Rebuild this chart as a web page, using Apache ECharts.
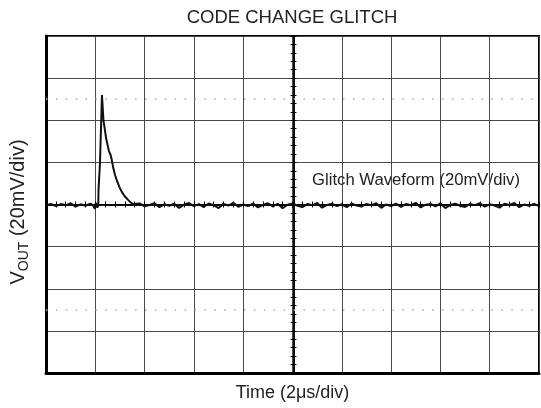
<!DOCTYPE html>
<html>
<head>
<meta charset="utf-8">
<script src="https://cdn.jsdelivr.net/npm/echarts@6/dist/echarts.min.js"></script>
<style>
  html, body { margin: 0; padding: 0; background: #fff; }
  #chart { width: 541px; height: 408px; }
</style>
</head>
<body>
<div id="chart"></div>
<script>
// scope trace, time in µs, VOUT in mV (20mV/div, 2µs/div)
const times = [
  0, 0.2, 0.4, 0.6, 0.8, 1.0, 1.2, 1.4, 1.6, 1.8,
  1.9, 1.98, 2.02, 2.08, 2.12, 2.13, 2.17, 2.19, 2.24, 2.26, 2.27,
  2.33, 2.44, 2.55, 2.62, 2.67, 2.73, 2.8, 2.87, 2.97, 3.07, 3.2, 3.34, 3.44, 3.54,
  3.6, 3.8, 4.0, 4.2, 4.4, 4.6, 4.8, 5.0, 5.2, 5.4, 5.6, 5.8, 6.0, 6.2, 6.4, 6.6, 6.8,
  7.0, 7.2, 7.4, 7.6, 7.8, 8.0, 8.2, 8.4, 8.6, 8.8, 9.0, 9.2, 9.4, 9.6, 9.8,
  10.0, 10.2, 10.4, 10.6, 10.8, 11.0, 11.2, 11.4, 11.6, 11.8, 12.0, 12.2, 12.4, 12.6, 12.8,
  13.0, 13.2, 13.4, 13.6, 13.8, 14.0, 14.2, 14.4, 14.6, 14.8, 15.0, 15.2, 15.4, 15.6, 15.8,
  16.0, 16.2, 16.4, 16.6, 16.8, 17.0, 17.2, 17.4, 17.6, 17.8, 18.0, 18.2, 18.4, 18.6, 18.8,
  19.0, 19.2, 19.4, 19.6, 19.8, 20.0
];
const vout = [
  -0.5, 0.3, -0.8, 0.2, -0.4, 0.6, -1.0, 0.1, -0.6, 0.4,
  -0.3, -2.0, 0.8, -1.5, -0.4, 6.9, 7.2, 19.7, 20.0, 19.7, 52.0,
  40.1, 31.4, 25.5, 23.5, 21.1, 17.3, 14.0, 11.6, 8.5, 6.1, 3.8, 2.1, 0.9, 0.2,
  -0.4, 0.5, -0.9, -0.2, 0.6, -1.3, 0.1, -0.6, 0.4, -1.6, -0.1, 0.7, -0.8, 0.2, -1.2, 0.5, -0.3,
  -1.7, 0.3, -0.5, 0.8, -1.1, 0.0, -0.7, 0.4, -1.4, -0.2, 0.6, -0.9, 0.3, -1.8, -0.1,
  0.5, -0.6, -1.2, 0.2, -0.4, 0.7, -1.5, -0.2, 0.4, -0.8, 0.1, -1.3, 0.5, -0.5, -1.0,
  0.3, -0.3, 0.6, -1.6, 0.0, -0.7, 0.4, -1.1, 0.2, -0.4, 0.8, -1.4, -0.1, 0.3, -0.9,
  0.5, -1.7, -0.2, 0.4, -0.6, -1.2, 0.3, -0.3, 0.6, -1.0, 0.1, -0.5, -1.5, 0.4, -0.2,
  0.7, -1.3, 0.0, -0.6, 0.3, -0.8
];
// dotted reference rows at +/- 2.5 div
const refLevels = [50, -50];

const FONT = '"Liberation Sans", Arial, sans-serif';
const myChart = echarts.init(document.getElementById("chart"), null, { renderer: "canvas" });

const timeScale = { type: "value", min: 0, max: 20, interval: 2 };
const voltScale = { type: "value", min: -80, max: 80, interval: 20 };

// centre cross with little tick marks on both sides
const centreX = (inside) => ({
  ...timeScale,
  position: "bottom",
  offset: -168.5,
  axisLine: { show: true, onZero: false, lineStyle: { color: "#000", width: 1.5 } },
  axisTick: { show: true, inside, length: 3, lineStyle: { color: "#000" } },
  minorTick: { show: true, splitNumber: 5, length: 3, lineStyle: { color: "#000" } },
  axisLabel: { show: false },
  splitLine: { show: false },
});
const centreY = (inside) => ({
  ...voltScale,
  position: "left",
  offset: -247.5,
  axisLine: { show: true, onZero: false, lineStyle: { color: "#000", width: 1.5 } },
  axisTick: { show: true, inside, length: 3, lineStyle: { color: "#000" } },
  minorTick: { show: true, splitNumber: 5, length: 3, lineStyle: { color: "#000" } },
  axisLabel: { show: false },
  splitLine: { show: false },
});

const option = {
  animation: false,
  textStyle: { fontFamily: FONT },
  title: {
    text: "CODE CHANGE GLITCH",
    left: 287,
    top: 3,
    textAlign: "center",
    textStyle: { fontSize: 18.5, fontWeight: "normal", color: "#222", fontFamily: FONT },
  },
  grid: {
    left: 44,
    right: 2,
    top: 36,
    bottom: 35,
    show: true,
    borderColor: "#000",
    borderWidth: 2,
  },
  xAxis: [
    {
      ...timeScale,
      position: "bottom",
      name: "Time (2μs/div)",
      nameLocation: "middle",
      nameGap: 11,
      nameTextStyle: { fontSize: 18, color: "#222", fontFamily: FONT },
      axisLine: { show: true, onZero: false, lineStyle: { color: "#000", width: 3 } },
      axisTick: { show: false },
      axisLabel: { show: false },
      splitLine: { show: true, lineStyle: { color: "#4a4a4a", width: 1 } },
    },
    centreX(false),
    centreX(true),
  ],
  yAxis: [
    {
      ...voltScale,
      position: "left",
      name: "{v|V}{s|OUT}{v| (20mV/div)}",
      nameLocation: "middle",
      nameGap: 15,
      nameRotate: 90,
      nameTextStyle: {
        color: "#222",
        fontFamily: FONT,
        padding: [0, 15, 0, 0],
        rich: {
          v: { fontSize: 20, lineHeight: 23, verticalAlign: "top", color: "#222", fontFamily: FONT },
          s: { fontSize: 14, lineHeight: 14, verticalAlign: "bottom", color: "#222", fontFamily: FONT },
        },
      },
      axisLine: { show: true, onZero: false, lineStyle: { color: "#000", width: 3 } },
      axisTick: { show: false },
      axisLabel: { show: false },
      splitLine: { show: true, lineStyle: { color: "#4a4a4a", width: 1 } },
    },
    centreY(false),
    centreY(true),
  ],
  graphic: [
    {
      type: "text",
      left: 312,
      top: 172,
      style: {
        text: "Glitch Waveform (20mV/div)",
        fontSize: 16.7,
        fontFamily: FONT,
        fill: "#222",
      },
    },
  ],
  series: [
    {
      name: "VOUT",
      type: "line",
      xAxisIndex: 0,
      yAxisIndex: 0,
      data: times.map((t, i) => [t, vout[i]]),
      showSymbol: false,
      lineStyle: { color: "#111", width: 2 },
      z: 5,
      markLine: {
        silent: true,
        symbol: "none",
        label: { show: false },
        lineStyle: { color: "#aaa", width: 1.5, type: [1.5, 8.4] },
        data: refLevels.map((v) => ({ yAxis: v })),
      },
    },
  ],
};

myChart.setOption(option);
</script>
</body>
</html>
